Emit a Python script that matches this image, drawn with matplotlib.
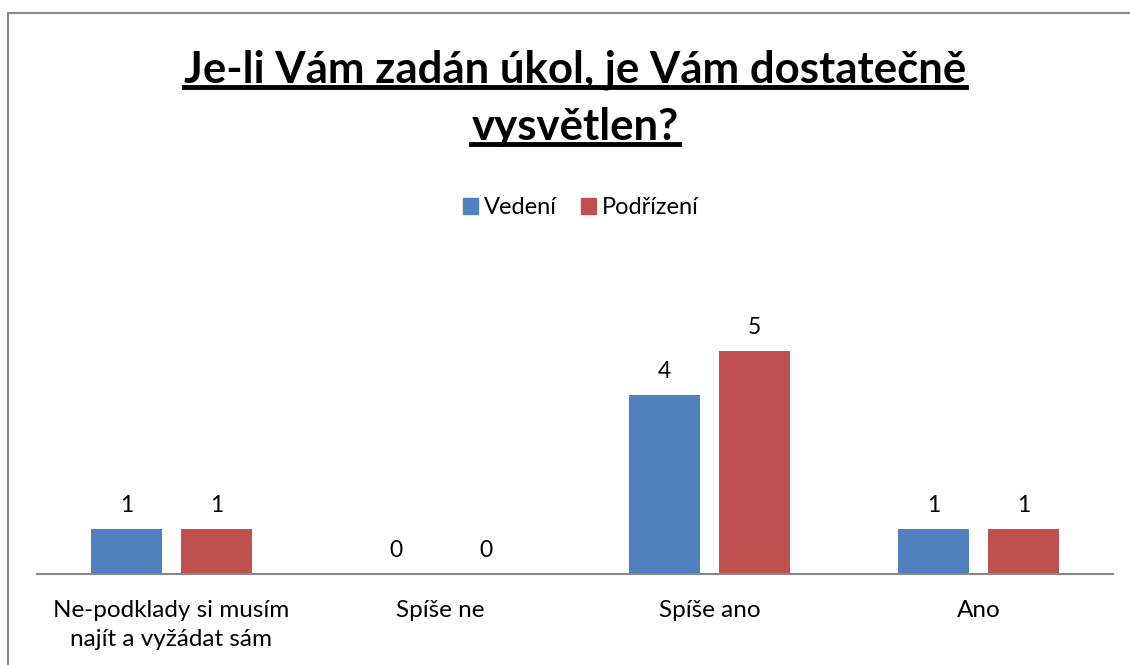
import matplotlib
matplotlib.use("Agg")
import matplotlib.pyplot as plt
import numpy as np
from matplotlib.lines import Line2D

categories = ["Ne-podklady si musím\nnajít a vyžádat sám", "Spíše ne", "Spíše ano", "Ano"]
series_names = ["Vedení", "Podřízení"]
vedeni = [1, 0, 4, 1]
podrizeni = [1, 0, 5, 1]
title = "Je-li Vám zadán úkol, je Vám dostatečně\nvysvětlen?"

colors = ["#4F81BD", "#C0504D"]
plt.rcParams['font.family'] = ['Lato', 'DejaVu Sans']

fig = plt.figure(figsize=(11.3, 6.65), dpi=100)
ax = fig.add_axes([37/1130, 1-574/665, (1113-37)/1130, (574-306)/665])

x = np.arange(len(categories))
w = 71/269
off = 45/269
for vals, o, c in [(vedeni, -off, colors[0]), (podrizeni, off, colors[1])]:
    bars = ax.bar(x + o, vals, width=w, color=c, zorder=2)
    for b, v in zip(bars, vals):
        ax.annotate(str(v), (b.get_x() + b.get_width()/2, v), xytext=(0, 17),
                    textcoords="offset points", ha="center", va="center", fontsize=16.5)

ax.set_xlim(-0.5, len(categories) - 0.5)
ax.set_ylim(0, 6)
ax.set_yticks([])
ax.set_xticks(x)
ax.set_xticklabels(categories, fontsize=17.5, linespacing=1.45)
ax.tick_params(axis="x", length=0, pad=19)
for s in ["top", "right", "left"]:
    ax.spines[s].set_visible(False)
ax.spines["bottom"].set_color("#888888")
ax.spines["bottom"].set_linewidth(1.5)

# chart border (top and left visible)
fig.add_artist(Line2D([7.5/1130, 7.5/1130], [0, 1-13/665], color="#888888", lw=1.5, transform=fig.transFigure))
fig.add_artist(Line2D([7.5/1130, 1], [1-13/665, 1-13/665], color="#888888", lw=1.5, transform=fig.transFigure))

# title with underline
lines = title.split("\n")
ys = [70, 127]
fig.canvas.draw()
renderer = fig.canvas.get_renderer()
for line, yy in zip(lines, ys):
    t = fig.text(575/1130, 1 - yy/665, line, ha="center", va="center", fontsize=31.5,
                 fontweight="bold")
    bb = t.get_window_extent(renderer=renderer)
    uy = bb.y0 + 3
    fig.add_artist(Line2D([bb.x0/1130, bb.x1/1130], [uy/665, uy/665], color="black", lw=3.5,
                          transform=fig.transFigure))

# legend
handles = [plt.Rectangle((0, 0), 1, 1, color=c) for c in colors]
fig.legend(handles, series_names, loc="center", bbox_to_anchor=(581/1130, 1-208/665),
           ncol=2, frameon=False, fontsize=17, handlelength=0.65, handleheight=0.65,
           handletextpad=0.25, columnspacing=1.0)

fig.savefig("out.png", dpi=100, facecolor="white")
